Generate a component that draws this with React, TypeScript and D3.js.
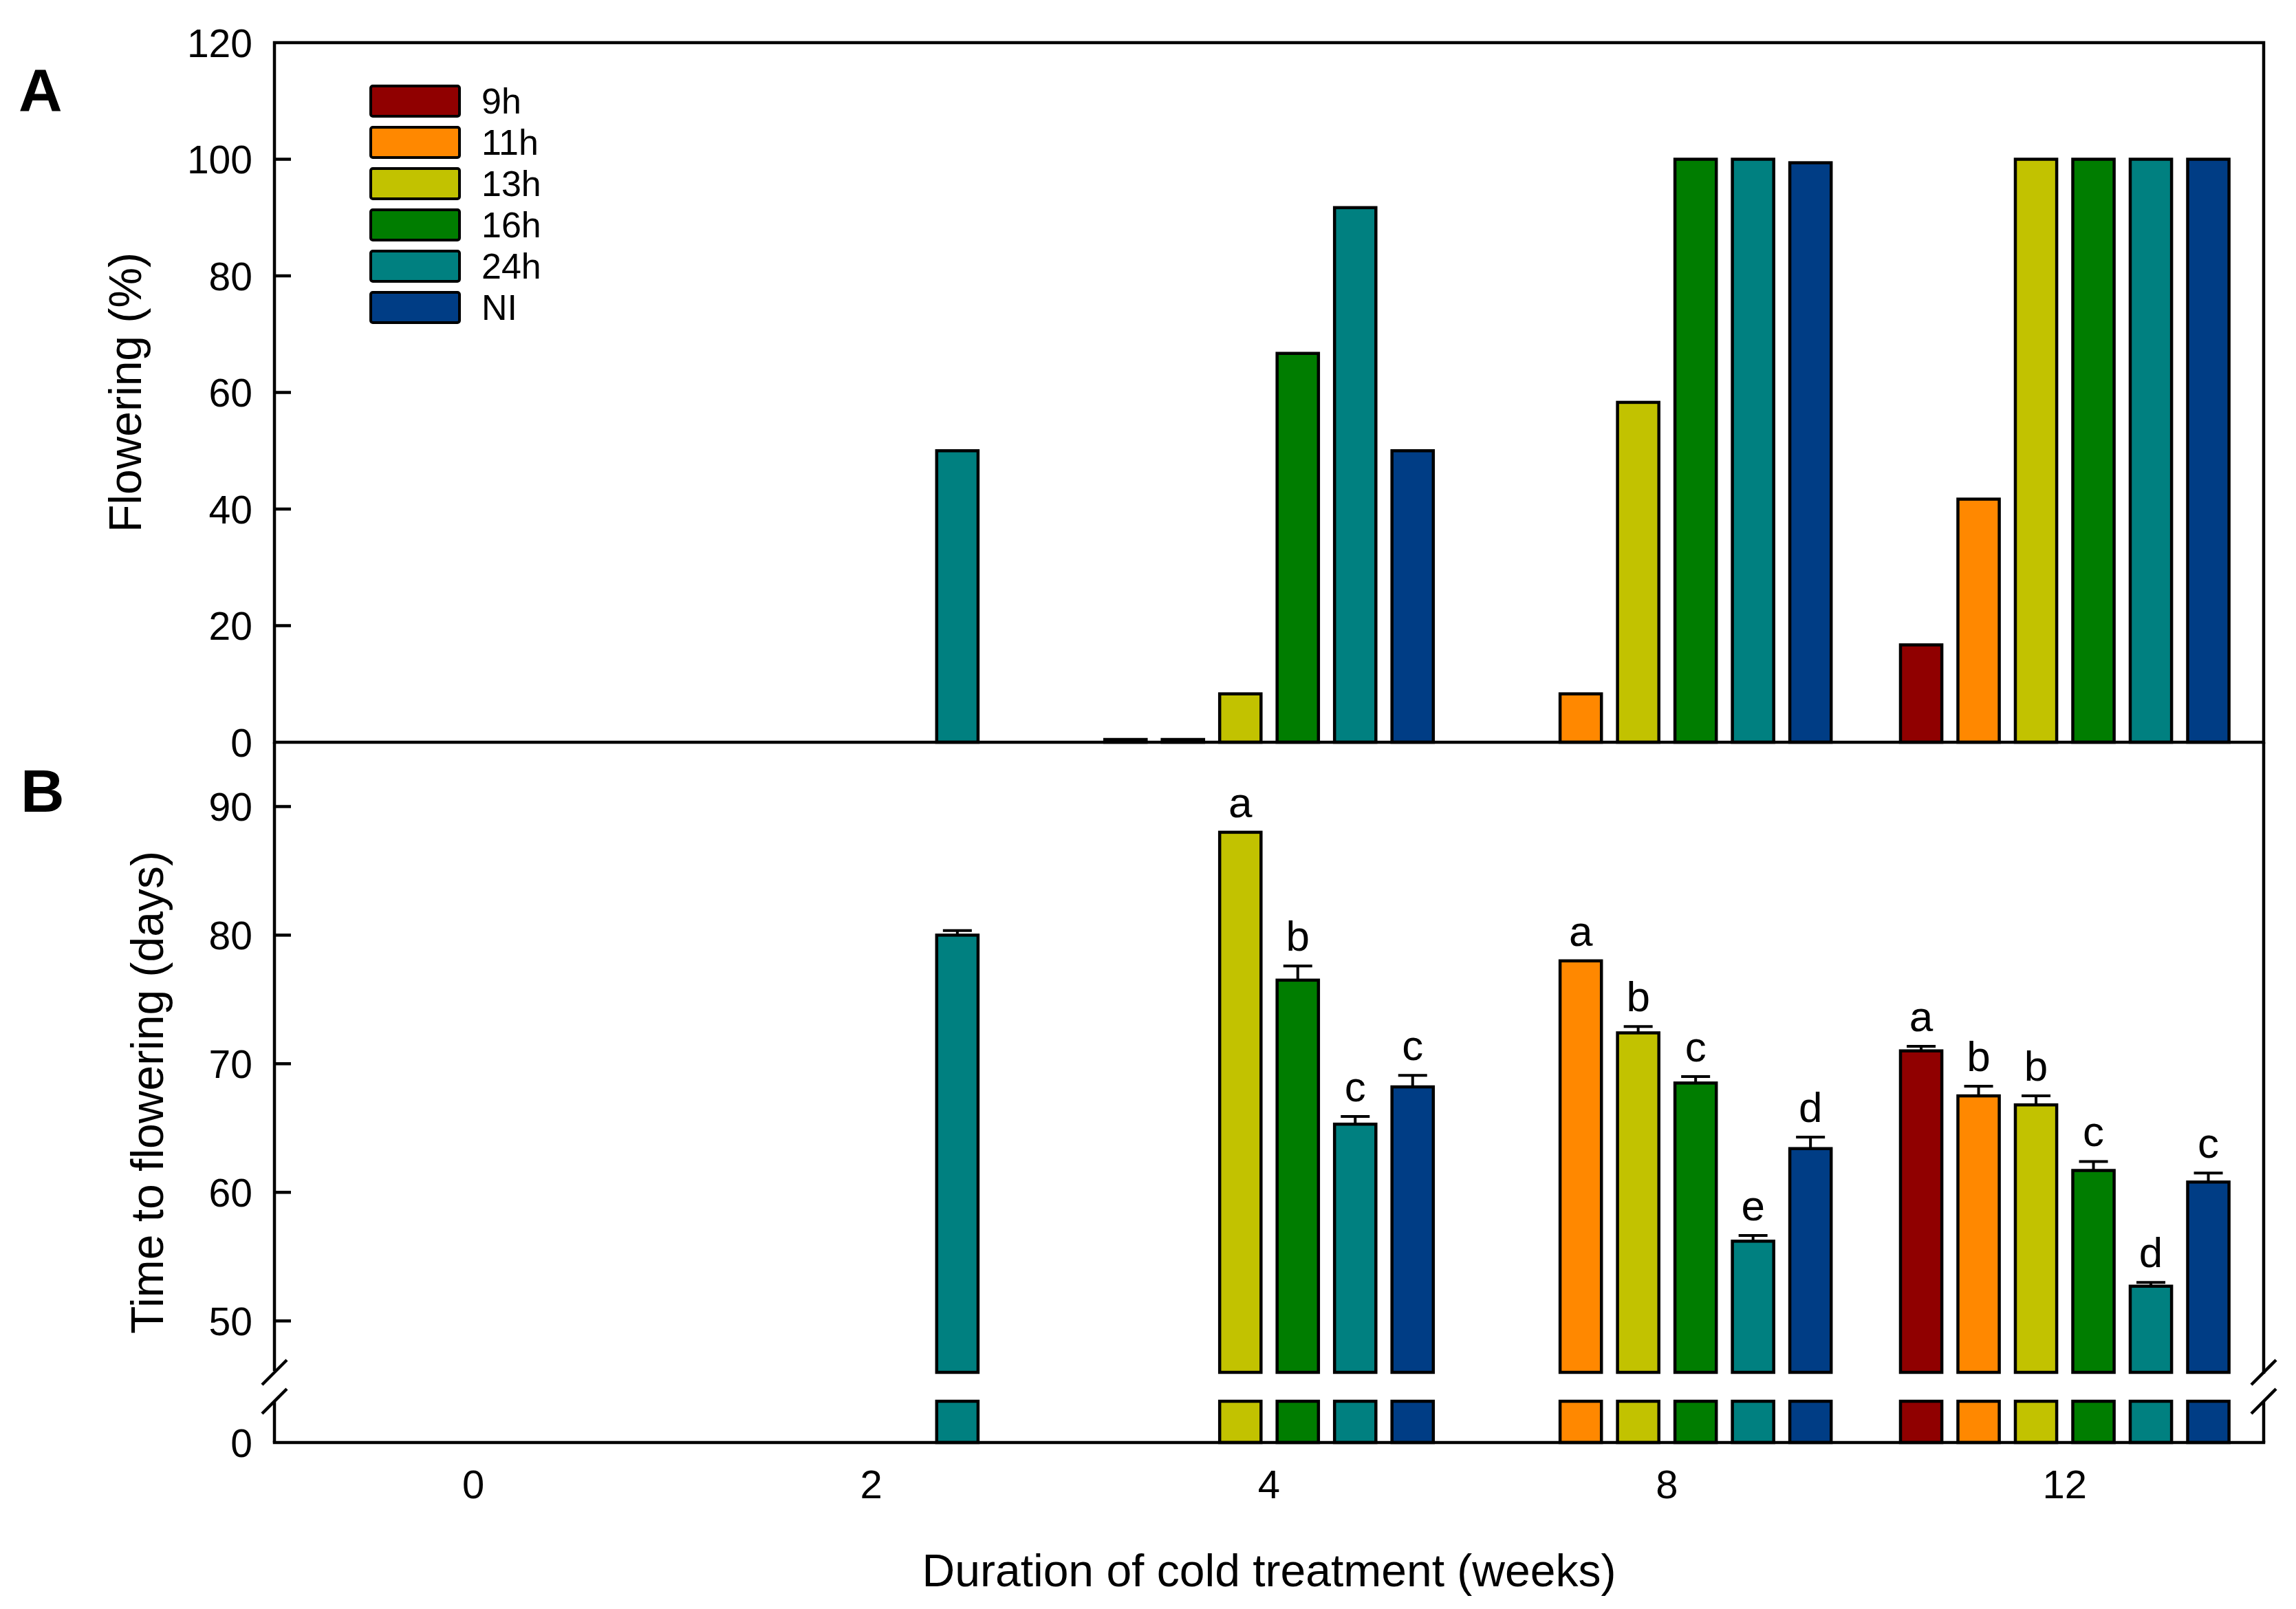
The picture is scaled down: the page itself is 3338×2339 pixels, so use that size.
import React from "react";
import * as d3 from "d3";

// cold treatment durations (weeks) and photoperiod series
const weeks = ["0", "2", "4", "8", "12"];
const series = ["9h", "11h", "13h", "16h", "24h", "NI"];
const colors = ["#900000", "#FF8800", "#C2C200", "#007D00", "#008080", "#003D85"];

// Panel A: flowering (%), one array per series, indexed by weeks
const flowering: (number | null)[][] = [
  [null, null, 0, null, 16.7],
  [null, null, 0, 8.3, 41.7],
  [null, null, 8.3, 58.3, 100],
  [null, null, 66.7, 100, 100],
  [null, 50, 91.7, 100, 100],
  [null, null, 50, 99.4, 100],
];

// Panel B: time to flowering (days), error (SE) and letters
const days: (number | null)[][] = [
  [null, null, null, null, 71.0],
  [null, null, null, 78.0, 67.5],
  [null, null, 88.0, 72.4, 66.8],
  [null, null, 76.5, 68.5, 61.7],
  [null, 80.0, 65.3, 56.2, 52.7],
  [null, null, 68.2, 63.4, 60.8],
];
const daysErr: (number | null)[][] = [
  [null, null, null, null, 0.35],
  [null, null, null, null, 0.75],
  [null, null, null, 0.5, 0.7],
  [null, null, 1.1, 0.5, 0.7],
  [null, 0.35, 0.6, 0.45, 0.3],
  [null, null, 0.9, 0.9, 0.7],
];
const letters: string[][] = [
  ["", "", "", "", "a"],
  ["", "", "", "a", "b"],
  ["", "", "a", "b", "b"],
  ["", "", "b", "c", "c"],
  ["", "", "c", "e", "d"],
  ["", "", "c", "d", "c"],
];

const ticksA = [0, 20, 40, 60, 80, 100, 120];
const ticksB = [50, 60, 70, 80, 90];

const W = 3338;
const H = 2339;
const FONT = "'Liberation Sans', Arial, sans-serif";

export default function App() {
  const left = 399;
  const right = 3291;
  const aTop = 62;
  const aBottom = 1079;
  const bBreak = 1995;
  const bLowTop = 2037;
  const bBottom = 2097;

  const x = d3.scaleBand().domain(weeks).range([left, right]);
  const xs = d3
    .scaleBand()
    .domain(series)
    .range([-250.5, 250.5])
    .paddingInner(0.28)
    .paddingOuter(0.14);
  const barX = (wi: number, si: number) =>
    (x(weeks[wi]) ?? 0) + x.bandwidth() / 2 + (xs(series[si]) ?? 0);
  const bw = xs.bandwidth();

  const yA = d3.scaleLinear().domain([0, 120]).range([aBottom, aTop]);
  const yB = d3.scaleLinear().domain([46, 95]).range([bBreak, aBottom]);
  const yLow = d3.scaleLinear().domain([0, 3.2]).range([bBottom, bLowTop]);

  const sw = 4.5;
  const barStroke = 4.5;

  const slash = (cx: number, cy: number) => (
    <line x1={cx - 18} y1={cy + 18} x2={cx + 18} y2={cy - 18} stroke="#000" strokeWidth={sw} />
  );

  return (
    <svg
      width={W}
      height={H}
      style={{ position: "absolute", left: 0, top: 0, background: "#fff" }}
      fontFamily={FONT}
    >
      <rect width={W} height={H} fill="#fff" />

      {/* Panel A bars */}
      {flowering.map((row, si) =>
        row.map((v, wi) => {
          if (v === null) return null;
          // zero values still show as a thin outlined stub on the axis
          const top = Math.min(yA(v), aBottom - 4);
          return (
            <rect
              key={`a-${si}-${wi}`}
              x={barX(wi, si)}
              y={top}
              width={bw}
              height={aBottom - top}
              fill={colors[si]}
              stroke="#000"
              strokeWidth={barStroke}
            />
          );
        })
      )}

      {/* Panel B bars (upper and lower segments) */}
      {days.map((row, si) =>
        row.map((v, wi) => {
          if (v === null) return null;
          const bx = barX(wi, si);
          const err = daysErr[si][wi];
          const topY = err ? yB(v + err) : yB(v);
          const cx = bx + bw / 2;
          return (
            <g key={`b-${si}-${wi}`}>
              {err ? (
                <g stroke="#000" strokeWidth={4}>
                  <line x1={cx} x2={cx} y1={yB(v)} y2={yB(v + err)} />
                  <line x1={cx - 21} x2={cx + 21} y1={yB(v + err)} y2={yB(v + err)} />
                </g>
              ) : null}
              <rect
                x={bx}
                y={yB(v)}
                width={bw}
                height={bBreak - yB(v)}
                fill={colors[si]}
                stroke="#000"
                strokeWidth={barStroke}
              />
              <rect
                x={bx}
                y={yLow(3.2)}
                width={bw}
                height={bBottom - yLow(3.2)}
                fill={colors[si]}
                stroke="#000"
                strokeWidth={barStroke}
              />
              {letters[si][wi] ? (
                <text x={cx} y={topY - 22} textAnchor="middle" fontSize={62}>
                  {letters[si][wi]}
                </text>
              ) : null}
            </g>
          );
        })
      )}

      {/* Panel A frame */}
      <rect
        x={left}
        y={aTop}
        width={right - left}
        height={aBottom - aTop}
        fill="none"
        stroke="#000"
        strokeWidth={sw}
      />

      {/* Panel B frame with broken axes */}
      <g stroke="#000" strokeWidth={sw} fill="none">
        <line x1={left} x2={left} y1={aBottom} y2={bBreak - 2} />
        <line x1={left} x2={left} y1={bLowTop + 1} y2={bBottom} />
        <line x1={right} x2={right} y1={aBottom} y2={bBreak + 2} />
        <line x1={right} x2={right} y1={bLowTop} y2={bBottom} />
        <line x1={left - sw / 2} x2={right + sw / 2} y1={bBottom} y2={bBottom} />
      </g>
      {slash(left, bBreak)}
      {slash(left, bLowTop)}
      {slash(right, bBreak)}
      {slash(right, bLowTop)}

      {/* Y axis A */}
      {ticksA.map((t) => (
        <g key={`ta-${t}`}>
          {t > 0 && t < 120 ? (
            <line x1={left} x2={left + 24} y1={yA(t)} y2={yA(t)} stroke="#000" strokeWidth={sw} />
          ) : null}
          <text x={367} y={yA(t)} dy="0.36em" textAnchor="end" fontSize={57}>
            {t}
          </text>
        </g>
      ))}

      {/* Y axis B */}
      {ticksB.map((t) => (
        <g key={`tb-${t}`}>
          <line x1={left} x2={left + 24} y1={yB(t)} y2={yB(t)} stroke="#000" strokeWidth={sw} />
          <text x={367} y={yB(t)} dy="0.36em" textAnchor="end" fontSize={57}>
            {t}
          </text>
        </g>
      ))}
      <text x={367} y={yLow(0)} dy="0.36em" textAnchor="end" fontSize={57}>
        0
      </text>

      {/* X axis labels */}
      {weeks.map((w) => (
        <text
          key={`x-${w}`}
          x={(x(w) ?? 0) + x.bandwidth() / 2}
          y={2178}
          textAnchor="middle"
          fontSize={58}
        >
          {w}
        </text>
      ))}
      <text x={(left + right) / 2} y={2306} textAnchor="middle" fontSize={66}>
        Duration of cold treatment (weeks)
      </text>

      {/* Axis titles */}
      <text
        transform={`translate(205,${(aTop + aBottom) / 2}) rotate(-90)`}
        textAnchor="middle"
        fontSize={66}
      >
        Flowering (%)
      </text>
      <text
        transform={`translate(237,${(aBottom + bBottom) / 2}) rotate(-90)`}
        textAnchor="middle"
        fontSize={66}
      >
        Time to flowering (days)
      </text>

      {/* Panel letters */}
      <text x={27} y={161} fontSize={88} fontWeight="bold">
        A
      </text>
      <text x={30} y={1180} fontSize={88} fontWeight="bold">
        B
      </text>

      {/* Legend */}
      {series.map((s, i) => (
        <g key={`lg-${s}`} transform={`translate(539,${125 + i * 60})`}>
          <rect width={129} height={44} rx={3} fill={colors[i]} stroke="#000" strokeWidth={4} />
          <text x={161} y={40} fontSize={52}>
            {s}
          </text>
        </g>
      ))}
    </svg>
  );
}
